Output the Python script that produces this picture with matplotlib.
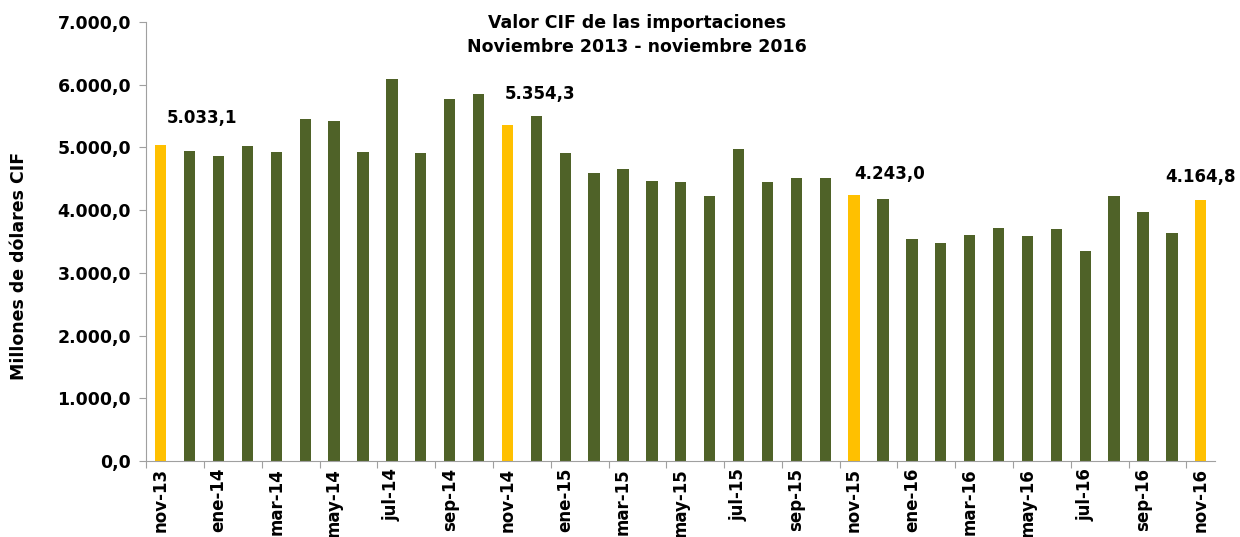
import matplotlib.pyplot as plt
import numpy as np

meses = ["nov", "dic", "ene", "feb", "mar", "abr", "may", "jun", "jul", "ago", "sep", "oct"]
periodos = [f"{meses[i % 12]}-{13 + (i + 10) // 12}" for i in range(37)]

valores = [5033.1, 4940, 4860, 5020, 4930, 5450, 5420, 4930, 6090, 4910, 5780, 5860,
           5354.3, 5500, 4910, 4590, 4660, 4465, 4450, 4225, 4975, 4450, 4510, 4510,
           4243.0, 4180, 3540, 3475, 3605, 3715, 3590, 3700, 3350, 4225, 3970, 3635,
           4164.8]

destacados = [0, 12, 24, 36]


def fmt(v, dec=1):
    s = f"{v:,.{dec}f}"
    return s.replace(",", "X").replace(".", ",").replace("X", ".")


verde = "#4F6228"
amarillo = "#FFC000"
colores = [amarillo if i in destacados else verde for i in range(len(valores))]

fig = plt.figure(figsize=(12.4, 5.37), dpi=100)
ax = fig.add_axes([0.118, 0.1415, 0.862, 0.8175])

x = np.arange(len(valores))
ax.bar(x, valores, width=0.39, color=colores)

ax.set_xlim(-0.5, len(valores) - 0.5)
ax.set_ylim(0, 7000)
ax.set_yticks(np.arange(0, 7001, 1000))
ax.set_yticklabels([fmt(v) for v in np.arange(0, 7001, 1000)],
                   fontsize=12.5, fontweight="bold")

# ticks between categories, labels on every second month
ax.set_xticks(x[::2] - 0.5)
ax.set_xticklabels([])
ax.set_xticks(x[::2], minor=True)
ax.set_xticklabels(periodos[::2], minor=True, rotation=90,
                   fontsize=12, fontweight="bold")
ax.tick_params(axis="x", which="minor", length=0, pad=5)
ax.tick_params(axis="x", which="major", length=5, color="#A0A0A0")
ax.tick_params(axis="y", length=5, color="#A0A0A0", pad=6)

for s in ["top", "right"]:
    ax.spines[s].set_visible(False)
for s in ["left", "bottom"]:
    ax.spines[s].set_color("#A0A0A0")

ax.set_ylabel("Millones de dólares CIF", fontsize=12.5, fontweight="bold")
ax.yaxis.set_label_coords(-0.111, 0.444)

# value labels on highlighted bars
desfases = {0: (0.2, 440, "left"), 12: (-0.1, 500, "left"),
            24: (0.0, 330, "left"), 36: (0.0, 365, "center")}
for i in destacados:
    dx, dy, ha = desfases[i]
    ax.text(i + dx, valores[i] + dy, fmt(valores[i]), ha=ha, va="center",
            fontsize=12, fontweight="bold")

fig.text(0.514, 0.935, "Valor CIF de las importaciones\nNoviembre 2013 - noviembre 2016",
         ha="center", va="center", fontsize=12.5, fontweight="bold", linespacing=1.45)

fig.savefig("out.png", dpi=100)
